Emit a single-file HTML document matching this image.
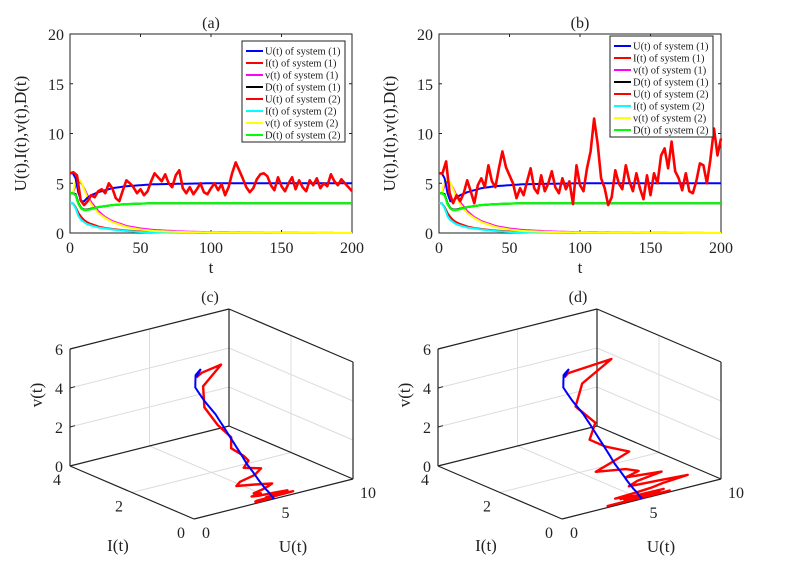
<!DOCTYPE html>
<html><head><meta charset="utf-8">
<style>
html,body{margin:0;padding:0;background:#fff;}
svg{display:block;font-family:"Liberation Serif",serif;}
</style></head>
<body>
<svg id="fig" width="795" height="569" viewBox="0 0 795 569" xmlns="http://www.w3.org/2000/svg"></svg>
<script>
// ---- data ----
const tNoise = [0,2.5,5,7.5,10,12.5,15,17.5,20,22.5,25,27.5,30,32.5,35,37.5,40,42.5,45,47.5,50,52.5,55,57.5,60,62.5,65,67.5,70,72.5,75,77.5,80,82.5,85,87.5,90,92.5,95,97.5,100,102.5,105,107.5,110,112.5,115,117.5,120,122.5,125,127.5,130,132.5,135,137.5,140,142.5,145,147.5,150,152.5,155,157.5,160,162.5,165,167.5,170,172.5,175,177.5,180,182.5,185,187.5,190,192.5,195,197.5,200];
const U2a = [6,6.1,5.8,3.3,2.8,3.2,3.8,3.6,4.2,4.4,4.0,5.0,4.5,3.5,3.2,4.3,5.3,5.0,4.6,4.0,4.4,3.8,4.2,5.2,6.0,5.6,5.2,5.9,5.0,4.6,5.8,6.3,4.5,4.0,4.6,3.9,4.4,5.0,4.1,3.9,4.5,5.0,4.3,4.9,3.8,4.6,6.0,7.1,6.3,5.5,4.6,4.1,4.5,5.4,5.9,6.0,5.7,4.8,4.3,5.6,4.7,4.2,5.0,5.6,4.4,5.3,4.6,4.2,5.3,4.8,5.5,4.5,5.0,4.7,5.9,5.2,4.8,5.4,5.0,4.6,4.2];
const U2b = [6,6,7.2,4.0,3.0,3.8,3.2,4.0,5.3,4.2,3.0,4.8,5.5,4.6,6.8,5.2,4.6,6.5,8.2,6.6,5.8,5.0,3.5,4.5,3.8,5.2,6.5,4.5,4.0,5.8,4.2,5.0,6.2,4.6,4.0,5.5,4.4,5.2,2.9,6.8,4.8,4.2,6.5,8.2,11.5,9.0,5.5,4.5,2.8,3.6,6.3,5.0,4.4,6.8,5.2,4.2,6.0,4.5,3.4,5.8,3.8,6.0,5.0,7.8,8.5,6.5,9.2,6.2,5.5,4.3,6.0,4.2,4.0,5.2,7.0,6.8,5.0,7.4,10.5,7.8,9.5];
const tSmooth = [0,2,4,6,8,10,12,15,20,25,30,40,50,60,80,100,150,200];
const U1 = [6,6,5.5,4,3.2,3.2,3.5,3.8,4.1,4.3,4.5,4.7,4.8,4.9,4.95,5,5,5];
const I1 = [3,3,2.6,2.0,1.6,1.3,1.1,0.9,0.65,0.5,0.4,0.25,0.15,0.1,0.05,0.02,0,0];
const v1 = [4,4,4.8,5.2,5.0,4.5,3.9,3.1,2.2,1.6,1.2,0.7,0.45,0.3,0.15,0.08,0.02,0];
const D1 = [4,4,3.9,3.0,2.5,2.35,2.35,2.45,2.6,2.7,2.8,2.9,2.95,3,3,3,3,3];
const I2 = [3,3,2.5,1.7,1.3,1.1,0.9,0.75,0.55,0.45,0.35,0.2,0.1,0.06,0.03,0.01,0,0];
const v2 = [4,4,5.2,5.4,5.1,4.4,3.7,2.9,2.0,1.5,1.1,0.6,0.35,0.2,0.1,0.05,0.01,0];
const D2 = [4,4,3.8,2.9,2.45,2.3,2.3,2.4,2.6,2.7,2.8,2.9,2.95,3,3,3,3,3];
const xTicks = [0,50,100,150,200];
const yTicks = [0,5,10,15,20];
const tMax3D = 100;
const legendLabels = ["U(t) of system (1)","I(t) of system (1)","v(t) of system (1)","D(t) of system (1)","U(t) of system (2)","I(t) of system (2)","v(t) of system (2)","D(t) of system (2)"];
const legendColors = ["#0000ff","#ff0000","#ff00ff","#000000","#ff0000","#00ffff","#ffff00","#00ff00"];

const NS="http://www.w3.org/2000/svg";
const svg=document.getElementById('fig');
function mk(tag,attrs,parent){const e=document.createElementNS(NS,tag);for(const k in attrs)e.setAttribute(k,attrs[k]);(parent||svg).appendChild(e);return e;}
function txt(s,x,y,size,anchor,parent){const e=mk('text',{x:x,y:y,'font-size':size,'text-anchor':anchor||'middle',fill:'#222'},parent);e.textContent=s;return e;}
function interp(ts,vs,t){for(let i=0;i<ts.length-1;i++){if(t<=ts[i+1]){const f=(t-ts[i])/(ts[i+1]-ts[i]);return vs[i]+f*(vs[i+1]-vs[i]);}}return vs[vs.length-1];}

function panel2D(L,R,T,B,title,U2,lgX,lgY,name){
  const g=mk('g',{});
  
  
  const xs=t=>L+(t/200)*(R-L), ys=v=>B-(v/20)*(B-T);
  mk('rect',{x:L,y:T,width:R-L,height:B-T,fill:'#fff',stroke:'#222','stroke-width':1},g);
  xTicks.forEach(t=>{mk('line',{x1:xs(t),x2:xs(t),y1:B,y2:B-3,stroke:'#222'},g);mk('line',{x1:xs(t),x2:xs(t),y1:T,y2:T+3,stroke:'#222'},g);const e=txt(String(t),xs(t),B+20,16,'middle',g);});
  yTicks.forEach(v=>{mk('line',{x1:L,x2:L+3,y1:ys(v),y2:ys(v),stroke:'#222'},g);mk('line',{x1:R,x2:R-3,y1:ys(v),y2:ys(v),stroke:'#222'},g);const e=txt(String(v),L-6,ys(v)+6,16,'end',g);});
  const tt=txt(title,(L+R)/2,T-6,16,'middle',g);
  
  const xl=txt('t',(L+R)/2,B+40,17,'middle',g);
  
  const yl=txt('U(t),I(t),v(t),D(t)',0,0,17,'middle',g);
  yl.setAttribute('transform','translate('+(L-44)+','+((T+B)/2)+') rotate(-90)');
  
  const sm=(arr)=>{const pts=[];for(let t=0;t<=200;t+=1)pts.push(xs(t).toFixed(1)+','+ys(interp(tSmooth,arr,t)).toFixed(1));return pts.join(' ');};
  const series=[[I1,'#ff0000','i-system1'],[I2,'#00ffff','i-system2'],[v1,'#ff00ff','v-system1'],[v2,'#ffff00','v-system2']];
  series.forEach(s=>{const p=mk('polyline',{points:sm(s[0]),fill:'none',stroke:s[1],'stroke-width':2},g);});
  const pu1=mk('polyline',{points:sm(U1),fill:'none',stroke:'#0000ff','stroke-width':2},g);
  
  const pd1=mk('polyline',{points:sm(D1),fill:'none',stroke:'#000','stroke-width':2},g);
  
  const pd2=mk('polyline',{points:sm(D2),fill:'none',stroke:'#00ff00','stroke-width':2.2},g);
  
  const pr=mk('polyline',{points:tNoise.map((t,i)=>xs(t).toFixed(1)+','+ys(U2[i]).toFixed(1)).join(' '),fill:'none',stroke:'#ff0000','stroke-width':2.6,'stroke-linejoin':'round'},g);
  
  const lg=mk('g',{},g);
  
  mk('rect',{x:lgX,y:lgY,width:103,height:101,fill:'#fff',stroke:'#222','stroke-width':1},lg);
  legendLabels.forEach((s,i)=>{const y=lgY+10+i*12;
    const le=mk('g',{},lg);
    
    mk('line',{x1:lgX+4,x2:lgX+21,y1:y,y2:y,stroke:legendColors[i],'stroke-width':2},le);
    txt(s,lgX+23,y+3.5,10.5,'start',le);});
}
panel2D(70,352,34,233,'(a)',U2a,242,41,'panel-a');
panel2D(439,721,34,233,'(b)',U2b,610,36,'panel-b');

function panel3D(ox,title,U2,name){
  const g=mk('g',{});
  
  
  const Bx=194+ox,By=519;
  const P=(U,I,v)=>[Bx+U*15.9-I*31,By-U*4.0-I*13.25-v*19.5];
  const ln=(a,b,c,w)=>mk('line',{x1:a[0],y1:a[1],x2:b[0],y2:b[1],stroke:c,'stroke-width':w},g);
  const gr='#dcdcdc';
  [2,4].forEach(v=>{ln(P(0,4,v),P(10,4,v),gr,1);ln(P(10,4,v),P(10,0,v),gr,1);});
  ln(P(5,4,0),P(5,4,6),gr,1);ln(P(10,2,0),P(10,2,6),gr,1);
  ln(P(5,0,0),P(5,4,0),gr,1);ln(P(0,2,0),P(10,2,0),gr,1);
  const k='#222';
  ln(P(0,4,0),P(0,4,6),k,1.2);ln(P(10,4,0),P(10,4,6),k,1.2);ln(P(10,0,0),P(10,0,6),k,1.2);
  ln(P(0,4,6),P(10,4,6),k,1.2);ln(P(10,4,6),P(10,0,6),k,1.2);
  ln(P(0,4,0),P(0,0,0),k,1.2);ln(P(0,0,0),P(10,0,0),k,1.2);
  ln(P(0,4,0),P(10,4,0),k,1.2);ln(P(10,4,0),P(10,0,0),k,1.2);
  [0,2,4,6].forEach(v=>{const p=P(0,4,v);ln(p,[p[0]+5,p[1]-1.3],k,1);const e=txt(String(v),p[0]-7,p[1]+6,16,'end',g);});
  [0,2,4].forEach(I=>{const p=P(0,I,0);const e=txt(String(I),p[0]-13,p[1]+19,16,'middle',g);});
  [0,5,10].forEach(U=>{const p=P(U,0,0);const e=txt(String(U),p[0]+12+(U==10?3:0),p[1]+19,16,'middle',g);});
  const vl=txt('v(t)',0,0,17,'middle',g);
  vl.setAttribute('transform','translate('+(42+ox)+',395) rotate(-90)');
  
  const il=txt('I(t)',118+ox,551,17,'middle',g);
  
  const ul=txt('U(t)',293+ox,552,17,'middle',g);
  
  const tl=txt(title,210+ox,302,16,'middle',g);
  
  const pts=[];
  tNoise.forEach((t,i)=>{if(t<=tMax3D)pts.push(P(U2[i],interp(tSmooth,I2,t),interp(tSmooth,v2,t)).map(n=>n.toFixed(1)).join(','));});
  const r=mk('polyline',{points:pts.join(' '),fill:'none',stroke:'#ff0000','stroke-width':2.4,'stroke-linejoin':'round'},g);
  
  const bp=[];for(let t=0;t<=200;t+=1)bp.push(P(interp(tSmooth,U1,t),interp(tSmooth,I1,t),interp(tSmooth,v1,t)).map(n=>n.toFixed(1)).join(','));
  const b=mk('polyline',{points:bp.join(' '),fill:'none',stroke:'#0000ff','stroke-width':2},g);
  
}
panel3D(0,'(c)',U2a,'panel-c');
panel3D(368,'(d)',U2b,'panel-d');
</script>
</body></html>
